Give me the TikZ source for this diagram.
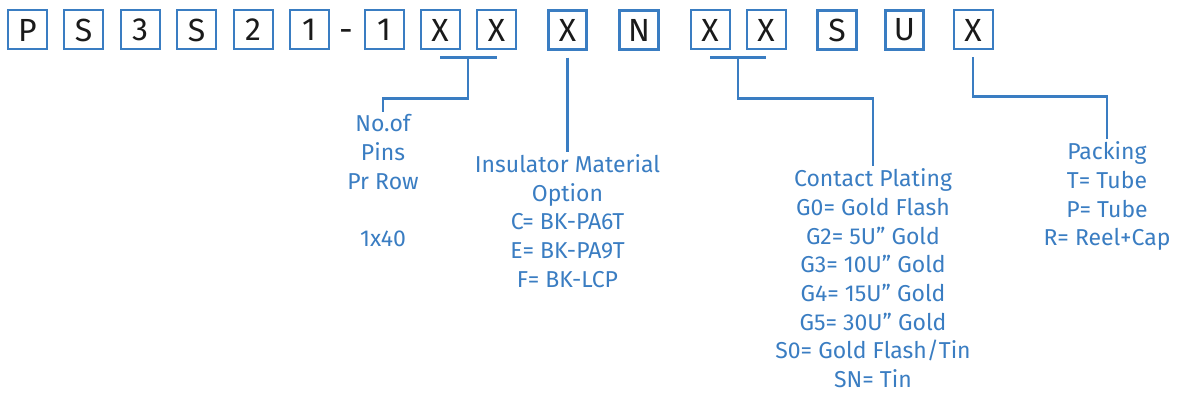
\documentclass[tikz,border=0pt]{standalone}
\usepackage{fontspec}
\setmainfont{Fira Sans}
\usetikzlibrary{calc}
\definecolor{pnblue}{HTML}{3A7DC2}
\definecolor{pnink}{HTML}{1A1A1A}
\begin{document}
\begin{tikzpicture}[x=0.5pt,y=-0.5pt,
  digit/.style={draw=pnblue,line width=1pt,minimum size=19.5pt,inner sep=0pt,
    text=pnink,font=\fontsize{16}{16}\selectfont},
  fixed/.style={digit,line width=1.4pt,minimum size=19.3pt},
  label/.style={anchor=north,align=center,inner sep=1.2pt,text=pnblue,
    font=\fontsize{11.5}{14.35}\selectfont},
  link/.style={draw=pnblue,line width=1.1pt}]
\useasboundingbox (0,0) rectangle (1178,394);
\node[digit] (p) at (27.5,30) {P};
\node[digit] (sa) at (83.7,30) {S};
\node[digit] (three) at (140,30) {3};
\node[digit] (sb) at (196.5,30) {S};
\node[digit] (two) at (253,30) {2};
\node[digit] (onea) at (309,30) {1};
\node[anchor=base,inner sep=0pt,text=pnink,font=\fontsize{17}{17}\selectfont] (dash) at (346,41.5) {-};
\node[digit] (oneb) at (384,30) {1};
\node[digit] (xa) at (440,30) {X};
\node[digit] (xb) at (496.5,30) {X};
\node[fixed] (xc) at (567.5,30) {X};
\node[fixed] (n) at (639,30) {N};
\node[digit] (xd) at (710,30) {X};
\node[digit] (xe) at (766,30) {X};
\node[fixed] (sc) at (837,30) {S};
\node[fixed] (u) at (904.5,30) {U};
\node[digit] (xf) at (973,30) {X};

\node[label] (pins) at (383,111.7) {No.of\\Pins\\Pr Row\\\mbox{}\\1x40};
\node[label] (insul) at (567.5,151.7) {Insulator Material\\Option\\C= BK-PA6T\\E= BK-PA9T\\F= BK-LCP};
\node[label] (plating) at (873,166) {Contact Plating\\G0= Gold Flash\\G2= 5U” Gold\\G3= 10U” Gold\\G4= 15U” Gold\\G5= 30U” Gold\\S0= Gold Flash/Tin\\SN= Tin};
\node[label] (packing) at (1107,139) {Packing\\T= Tube\\P= Tube\\R= Reel+Cap};

\draw[link] ($(xa.south)+(0,7)$) -- ($(xb.south)+(0,7)$);
\draw[link] ($(xa.south)!0.5!(xb.south)+(0,7)$) -- ++(0,41) -| (pins.north);
\draw[link] ($(xc.south)+(0,7)$) -- (insul.north);
\draw[link] ($(xd.south)+(0,7)$) -- ($(xe.south)+(0,7)$);
\draw[link] ($(xd.south)!0.5!(xe.south)+(0,7)$) -- ++(0,41) -| (plating.north);
\draw[link] ($(xf.south)+(0,7)$) -- ++(0,39) -| (packing.north);
\end{tikzpicture}
\end{document}
